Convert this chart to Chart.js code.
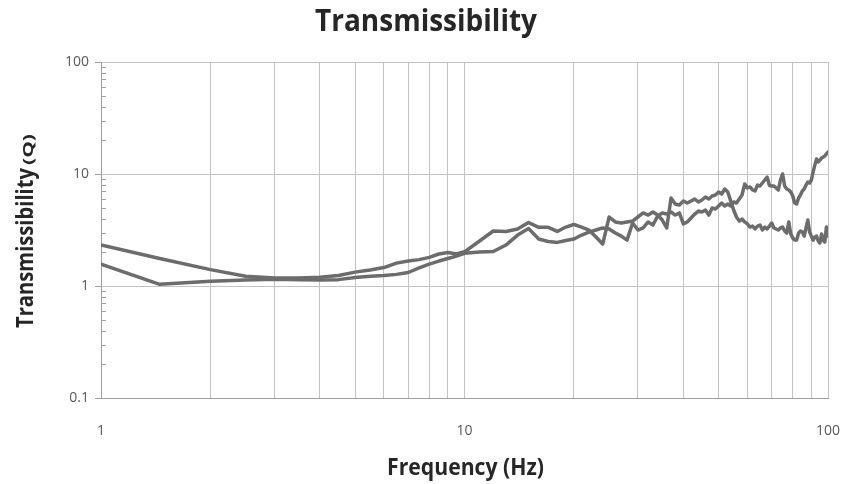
<!DOCTYPE html>
<html><head><meta charset="utf-8">
<script src="https://cdn.jsdelivr.net/npm/chart.js@4.4.0/dist/chart.umd.min.js"></script>
<style>html,body{margin:0;padding:0;background:#fff;}canvas{display:block;}</style>
</head><body>
<canvas id="c" width="847" height="484"></canvas>
<script>
// ---- data ----
const frequencies = [1, 1.45, 2, 2.5, 3, 3.5, 4, 4.5, 5, 5.5, 6, 6.5, 7, 7.5, 8, 8.5, 9, 9.5,
  10, 11, 12, 13, 14, 15, 16, 17, 18, 19, 20, 21, 22, 23, 24, 25, 26, 27, 28, 29,
  30, 31, 32, 33, 34, 35, 36, 37, 38, 39, 40, 41, 42, 43, 44, 45, 46, 47, 48, 49,
  50, 51, 52, 53, 54, 55, 56, 57, 58, 59, 60, 61, 62, 63, 64, 65, 66, 67, 68, 69,
  70, 71, 72, 73, 74, 75, 76, 77, 78, 79, 80, 81, 82, 83, 84, 85, 86, 87, 88, 89,
  90, 91, 92, 93, 94, 95, 96, 97, 98, 99, 100];

const seriesA = [2.32, 1.76, 1.40, 1.22, 1.18, 1.18, 1.20, 1.24, 1.33, 1.39, 1.46, 1.60, 1.67, 1.72, 1.80, 1.93, 1.99, 1.93,
  2.02, 2.52, 3.10, 3.07, 3.23, 3.69, 3.34, 3.34, 3.07, 3.36, 3.54, 3.36, 3.16, 2.74, 2.37, 4.13, 3.73, 3.65, 3.73, 3.80,
  4.13, 4.49, 4.30, 4.58, 4.30, 3.88, 3.30, 6.11, 5.40, 5.29, 5.74, 5.51, 5.74, 5.98, 5.62, 5.86, 6.23, 5.98, 6.36, 6.49,
  6.91, 6.63, 7.35, 6.91, 5.74, 4.77, 4.13, 3.80, 3.96, 3.73, 3.58, 3.36, 3.43, 3.23, 3.43, 3.50, 3.16, 3.36, 3.23, 3.43,
  3.65, 3.30, 3.23, 3.16, 3.30, 3.36, 3.10, 2.97, 3.73, 2.91, 2.68, 2.57, 2.57, 2.97, 3.10, 3.03, 2.79, 3.30, 3.88, 3.03,
  2.79, 2.57, 2.74, 2.79, 2.52, 2.42, 2.91, 2.57, 2.47, 3.36, 2.79];

const seriesB = [1.57, 1.035, 1.10, 1.13, 1.15, 1.14, 1.13, 1.14, 1.19, 1.22, 1.24, 1.27, 1.32, 1.45, 1.57, 1.67, 1.76, 1.85,
  1.96, 2.01, 2.03, 2.32, 2.85, 3.26, 2.63, 2.50, 2.45, 2.55, 2.63, 2.85, 3.03, 3.16, 3.30, 3.23, 2.97, 2.79, 2.57, 3.65,
  3.16, 3.30, 3.73, 3.50, 4.22, 4.49, 4.39, 4.58, 4.30, 4.49, 3.58, 3.73, 4.05, 4.39, 4.67, 4.58, 4.77, 4.30, 4.97, 4.87,
  5.18, 5.51, 5.18, 5.40, 5.18, 5.62, 5.51, 5.98, 6.49, 8.14, 7.50, 7.66, 7.20, 7.05, 7.97, 7.81, 8.31, 8.84, 9.40, 7.90,
  7.81, 7.81, 7.50, 7.20, 8.84, 10.0, 7.81, 7.35, 7.20, 6.91, 6.36, 5.51, 5.40, 6.11, 6.49, 7.05, 7.35, 7.97, 8.48, 8.31,
  8.84, 10.4, 12.0, 13.6, 12.8, 13.3, 13.9, 14.2, 14.5, 15.1, 15.7];

const xGridValues = [1, 2, 3, 4, 5, 6, 7, 8, 9, 10, 20, 30, 40, 50, 60, 70, 80, 90, 100];
const xLabelValues = [1, 10, 100];
const xLabelTexts = ['1', '10', '100'];
const yTickValues = [0.1, 1, 10, 100];
const yTickTexts = ['0.1', '1', '10', '100'];
const yMinorDecades = [0.1, 1, 10];
const yMinorMultipliers = [2, 3, 4, 5, 6, 7, 8, 9];

const chartTitle = 'Transmissibility';
const yTitleMain = 'Transmissibility';
const yTitleUnit = '(Q)';
const xTitle = 'Frequency (Hz)';

// ---- styles ----
const FONT = "'Open Sans', 'Liberation Sans', sans-serif";
const lineColor = '#6c6c6c';
const gridColor = '#c3c3c3';
const axisColor = '#a0a0a0';
const labelColor = '#595959';
const titleColor = '#262626';

function points(vals) { return frequencies.map((f, i) => ({ x: f, y: vals[i] })); }

function squeezedText(ctx, text, x, y, size, weight, targetW, align) {
  ctx.font = weight + ' ' + size + 'px ' + FONT;
  const w = ctx.measureText(text).width;
  const sx = targetW ? targetW / w : 1;
  ctx.save();
  ctx.translate(x, y);
  ctx.scale(sx, 1);
  ctx.textAlign = align;
  ctx.textBaseline = 'alphabetic';
  ctx.fillText(text, 0, 0);
  ctx.restore();
  return w * sx;
}

const decor = {
  id: 'decor',
  afterDraw(chart) {
    const ctx = chart.ctx;
    const a = chart.chartArea;
    const y = chart.scales.y;
    ctx.save();
    ctx.strokeStyle = axisColor;
    ctx.lineWidth = 1;
    yMinorDecades.forEach(d => {
      yMinorMultipliers.forEach(m => {
        const py = Math.round(y.getPixelForValue(d * m)) + 0.5;
        ctx.beginPath();
        ctx.moveTo(a.left, py);
        ctx.lineTo(a.left + 5, py);
        ctx.stroke();
      });
    });
    ctx.fillStyle = titleColor;
    // main title
    squeezedText(ctx, chartTitle, 426, 31, 30, 'bold', 222, 'center');
    // x title
    squeezedText(ctx, xTitle, (a.left + a.right) / 2 + 1, 475, 23, 'bold', 157, 'center');
    // y title (rotated)
    ctx.save();
    ctx.translate(33, 328);
    ctx.rotate(-Math.PI / 2);
    const w = squeezedText(ctx, yTitleMain, 0, 0, 24, 'bold', 160, 'left');
    squeezedText(ctx, yTitleUnit, w + 3, 0, 14, 'bold', 31, 'left');
    ctx.restore();
    ctx.restore();
  }
};

new Chart(document.getElementById('c'), {
  type: 'scatter',
  data: {
    datasets: [
      { label: 'A', data: points(seriesA), showLine: true, borderColor: lineColor, borderWidth: 3.5, pointRadius: 0, tension: 0, fill: false, borderJoinStyle: 'round', borderCapStyle: 'round' },
      { label: 'B', data: points(seriesB), showLine: true, borderColor: lineColor, borderWidth: 3.5, pointRadius: 0, tension: 0, fill: false, borderJoinStyle: 'round', borderCapStyle: 'round' }
    ]
  },
  options: {
    responsive: false,
    animation: false,
    devicePixelRatio: 1,
    layout: { padding: { left: 0, right: 19, top: 62, bottom: 0 } },
    plugins: { legend: { display: false }, title: { display: false }, tooltip: { enabled: false } },
    scales: {
      x: {
        type: 'logarithmic', min: 1, max: 100, position: 'bottom',
        afterBuildTicks: s => { s.ticks = xGridValues.map(v => ({ value: v })); },
        afterFit: s => { s.height = 86; s.paddingLeft = 0; s.paddingRight = 0; },
        grid: { color: gridColor, lineWidth: 1, drawTicks: false },
        border: { color: axisColor, width: 1 },
        ticks: {
          autoSkip: false, maxRotation: 0, minRotation: 0, padding: 25, color: labelColor,
          font: { family: FONT, size: 14 },
          callback: v => { const i = xLabelValues.indexOf(v); return i >= 0 ? xLabelTexts[i] : ''; }
        }
      },
      y: {
        type: 'logarithmic', min: 0.1, max: 100, position: 'left',
        afterBuildTicks: s => { s.ticks = yTickValues.map(v => ({ value: v })); },
        afterFit: s => { s.width = 101; s.paddingTop = 0; s.paddingBottom = 0; },
        grid: { color: gridColor, lineWidth: 1, drawTicks: true, tickLength: 6, tickColor: axisColor },
        border: { color: axisColor, width: 1 },
        ticks: {
          padding: 6, color: labelColor, font: { family: FONT, size: 14 },
          callback: v => { const i = yTickValues.indexOf(v); return i >= 0 ? yTickTexts[i] : ''; }
        }
      }
    }
  },
  plugins: [decor]
});
</script>
</body></html>
